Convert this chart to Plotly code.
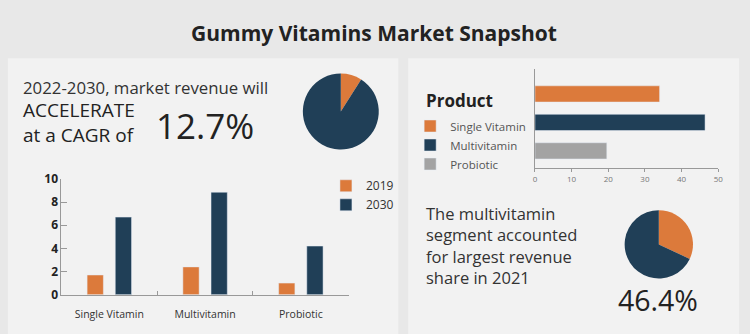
import plotly.graph_objects as go

# ---------------- data ----------------
title_text = "Gummy Vitamins Market Snapshot"
categories = ["Single Vitamin", "Multivitamin", "Probiotic"]
rev_2019 = [1.7, 2.4, 1.0]
rev_2030 = [6.7, 8.85, 4.2]
product_share = [34.0, 46.4, 19.6]
cagr_pie_labels = ["CAGR", "Rest"]
cagr_pie_values = [9, 91]
share_pie_labels = ["Other", "Multivitamin"]
share_pie_values = [32, 68]
cagr_text = "12.7%"
share_text = "46.4%"
x_ticks_right = [0, 10, 20, 30, 40, 50]

ORANGE = "#dc7a3b"
NAVY = "#203f57"
GRAY = "#a3a3a3"
BG = "#e8e8e8"
PANEL = "#f2f2f2"
FONT = "Open Sans"

W, H = 750, 334


def fx(px):
    return px / W


def fy(py):
    return 1 - py / H


fig = go.Figure()

# left grouped bars
fig.add_trace(go.Bar(x=categories, y=rev_2019, name="2019", marker_color=ORANGE,
                     width=0.17, offset=-0.232, xaxis="x", yaxis="y", legend="legend"))
fig.add_trace(go.Bar(x=categories, y=rev_2030, name="2030", marker_color=NAVY,
                     width=0.17, offset=0.062, xaxis="x", yaxis="y", legend="legend"))

# right horizontal bars (one trace per product for the legend)
prod_colors = [ORANGE, NAVY, GRAY]
for cat, val, col in zip(categories, product_share, prod_colors):
    fig.add_trace(go.Bar(y=[cat], x=[val], orientation="h", name=cat, marker_color=col,
                         width=0.57, xaxis="x2", yaxis="y2", legend="legend2"))

# pies
fig.add_trace(go.Pie(labels=cagr_pie_labels, values=cagr_pie_values, sort=False,
                     direction="clockwise", rotation=0, textinfo="none",
                     marker=dict(colors=[ORANGE, NAVY], line=dict(width=0)),
                     domain=dict(x=[fx(301), fx(383)], y=[fy(148), fy(68)]),
                     showlegend=False, hoverinfo="label+percent"))
fig.add_trace(go.Pie(labels=share_pie_labels, values=share_pie_values, sort=False,
                     direction="clockwise", rotation=0, textinfo="none",
                     marker=dict(colors=[ORANGE, NAVY], line=dict(width=0)),
                     domain=dict(x=[fx(627), fx(699)], y=[fy(284), fy(212)]),
                     showlegend=False, hoverinfo="label+percent"))

shapes = [
    dict(type="rect", xref="paper", yref="paper", x0=fx(6), x1=fx(400), y0=-0.05, y1=fy(52),
         fillcolor=PANEL, line=dict(width=0), layer="below"),
    dict(type="rect", xref="paper", yref="paper", x0=fx(410), x1=fx(744), y0=-0.05, y1=fy(52),
         fillcolor=PANEL, line=dict(width=0), layer="below"),
]

annotations = [
    dict(text="<b>" + title_text + "</b>", x=0.5, y=fy(25), xref="paper", yref="paper",
         showarrow=False, xanchor="center", yanchor="middle",
         font=dict(family=FONT, size=21, color="#222")),
    dict(text="2022-2030, market revenue will", x=fx(19), y=fy(83), xref="paper", yref="paper",
         showarrow=False, xanchor="left", yanchor="middle",
         font=dict(family=FONT, size=16.8, color="#333")),
    dict(text="ACCELERATE<br>at a CAGR of", x=fx(19), y=fy(120), xref="paper", yref="paper",
         showarrow=False, xanchor="left", yanchor="middle", align="left",
         font=dict(family=FONT, size=19, color="#222")),
    dict(text=cagr_text, x=fx(153), y=fy(123), xref="paper", yref="paper",
         showarrow=False, xanchor="left", yanchor="middle",
         font=dict(family=FONT, size=35, color="#222")),
    dict(text="<b>Product</b>", x=fx(426), y=fy(96), xref="paper", yref="paper",
         showarrow=False, xanchor="left", yanchor="middle",
         font=dict(family=FONT, size=17, color="#222")),
    dict(text="The multivitamin<br>segment accounted<br>for largest revenue<br>share in 2021",
         x=fx(426), y=fy(249), xref="paper", yref="paper",
         showarrow=False, xanchor="left", yanchor="middle", align="left",
         font=dict(family=FONT, size=16.5, color="#333")),
    dict(text=share_text, x=fx(662), y=fy(307), xref="paper", yref="paper",
         showarrow=False, xanchor="center", yanchor="middle",
         font=dict(family=FONT, size=28.5, color="#222")),
]

fig.update_layout(
    width=W, height=H,
    margin=dict(l=0, r=0, t=0, b=0),
    paper_bgcolor=BG, plot_bgcolor="rgba(0,0,0,0)",
    barmode="overlay",
    font=dict(family=FONT, color="#333"),
    shapes=shapes, annotations=annotations,
    xaxis=dict(domain=[fx(60), fx(350)], anchor="y", showline=True, linecolor="#999",
               linewidth=1, ticks="inside", tickson="boundaries", ticklen=4, tickcolor="#999",
               showgrid=False, tickfont=dict(size=10.5, color="#333"), range=[-0.5, 2.5],
               ticklabelstandoff=10),
    yaxis=dict(domain=[fy(301), fy(179)], anchor="x", range=[0, 10], dtick=2,
               showline=True, linecolor="#999", linewidth=1, ticks="inside", ticklen=6,
               tickcolor="#999", showgrid=False, zeroline=False,
               tickfont=dict(size=12, color="#222", weight="bold")),
    xaxis2=dict(domain=[fx(538), fx(723)], anchor="y2", range=[0, 50], tickvals=x_ticks_right,
                showline=True, linecolor="#999", linewidth=1, ticks="outside", ticklen=3,
                tickcolor="#999", showgrid=False, zeroline=False,
                tickfont=dict(size=8, color="#777")),
    yaxis2=dict(domain=[fy(168), fy(63)], anchor="x2", categoryorder="array",
                categoryarray=categories, range=[2.617, -0.883], showline=True,
                linecolor="#999", linewidth=1, showticklabels=False, ticks="", showgrid=False),
    legend=dict(x=fx(327), y=fy(171), xanchor="left", yanchor="top", bgcolor="rgba(0,0,0,0)",
                font=dict(size=12, color="#333"), itemwidth=30, tracegroupgap=0),
    legend2=dict(x=fx(412), y=fy(108), xanchor="left", yanchor="top", bgcolor="rgba(0,0,0,0)",
                 font=dict(size=11.5, color="#555"), itemwidth=30),
)

fig.write_html("out.html")
